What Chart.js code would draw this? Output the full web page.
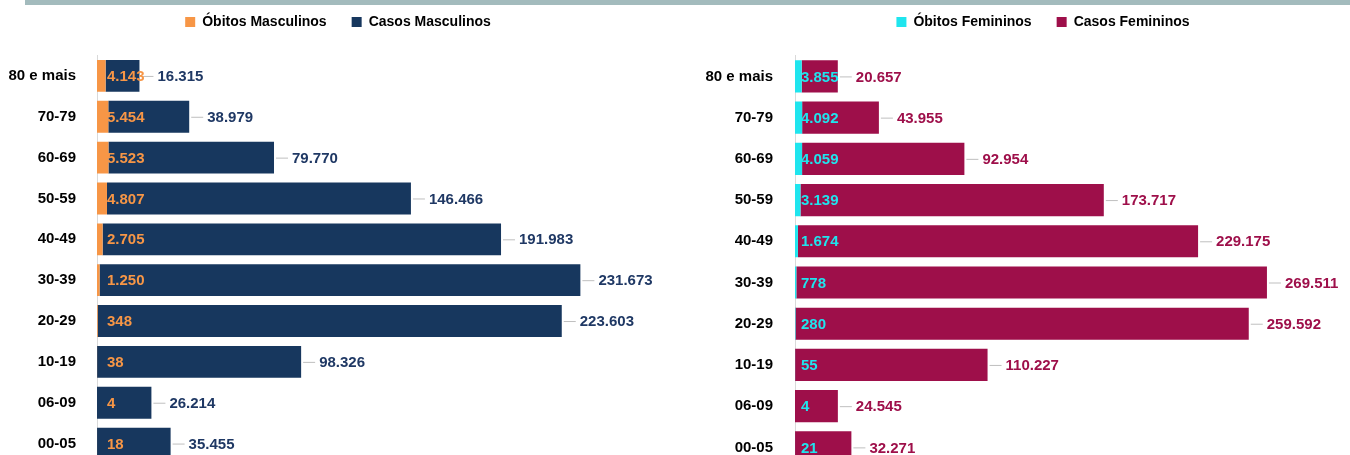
<!DOCTYPE html>
<html>
<head>
<meta charset="utf-8">
<script src="https://cdn.jsdelivr.net/npm/chart.js@4"></script>
<style>
  html, body { margin: 0; padding: 0; background: #fff; overflow: hidden; width: 1350px; height: 455px; }
  .topline { position: absolute; left: 25px; top: 0; width: 1325px; height: 5px; background: #a3bbbd; }
  .box { position: absolute; top: -10px; }
</style>
</head>
<body>
<div class="topline"></div>
<div class="box" style="left:0; width:676px; height:504px;"><canvas id="maleChart"></canvas></div>
<div class="box" style="left:690px; width:706px; height:509px;"><canvas id="femaleChart"></canvas></div>
<script>
// faixas etárias, de cima para baixo
const ageGroups = ['80 e mais', '70-79', '60-69', '50-59', '40-49', '30-39', '20-29', '10-19', '06-09', '00-05'];

const deathsMale = [4143, 5454, 5523, 4807, 2705, 1250, 348, 38, 4, 18];
const casesMale = [16315, 38979, 79770, 146466, 191983, 231673, 223603, 98326, 26214, 35455];

const deathsFemale = [3855, 4092, 4059, 3139, 1674, 778, 280, 55, 4, 21];
const casesFemale = [20657, 43955, 92954, 173717, 229175, 269511, 259592, 110227, 24545, 32271];

const FONT = "'Liberation Sans', Arial, sans-serif";

function fmt(v) {
    return String(v).replace(/\B(?=(\d{3})+(?!\d))/g, '.');
}

// rótulos: óbitos dentro da barra, casos após a barra com linha guia
const valueLabels = {
    id: 'valueLabels',
    afterDatasetsDraw(chart, args, opts) {
        const ctx = chart.ctx;
        const xScale = chart.scales.x;
        const deathsMeta = chart.getDatasetMeta(0);
        const casesMeta = chart.getDatasetMeta(1);
        ctx.save();
        ctx.font = 'bold 15px ' + FONT;
        ctx.textBaseline = 'middle';
        ctx.textAlign = 'left';
        casesMeta.data.forEach((bar, i) => {
            const y = bar.y;
            const end = bar.x;
            ctx.strokeStyle = '#bfbfbf';
            ctx.lineWidth = 1;
            ctx.beginPath();
            ctx.moveTo(end + 2, y + 0.5);
            ctx.lineTo(end + 14, y + 0.5);
            ctx.stroke();
            ctx.fillStyle = opts.casesColor;
            ctx.fillText(fmt(chart.data.datasets[1].data[i]), end + 18, y + 1);
        });
        deathsMeta.data.forEach((bar, i) => {
            ctx.fillStyle = opts.deathsColor;
            ctx.fillText(fmt(chart.data.datasets[0].data[i]), xScale.left + opts.inset, bar.y + 1);
        });
        ctx.restore();
    }
};

// reserva a altura do cabeçalho da legenda
const legendSpace = {
    id: 'legendSpace',
    beforeInit(chart, args, opts) {
        const origFit = chart.legend.fit;
        chart.legend.fit = function () {
            origFit.bind(this)();
            this.height = opts.height;
        };
    }
};

function makeChart(id, labels, deathsLabel, casesLabel, deaths, cases, colors, cfg) {
    return new Chart(document.getElementById(id), {
        type: 'bar',
        data: {
            labels: labels,
            datasets: [{
                label: deathsLabel,
                data: deaths,
                backgroundColor: colors.deaths,
                barPercentage: 0.78,
                categoryPercentage: 1
            }, {
                label: casesLabel,
                data: cases,
                backgroundColor: colors.cases,
                barPercentage: 0.78,
                categoryPercentage: 1
            }]
        },
        options: {
            indexAxis: 'y',
            responsive: true,
            maintainAspectRatio: false,
            animation: false,
            layout: { padding: 0 },
            plugins: {
                legend: {
                    position: 'top',
                    labels: {
                        boxWidth: 10,
                        boxHeight: 10,
                        padding: 25,
                        color: '#000',
                        font: { family: FONT, size: 14, weight: 'bold' }
                    }
                },
                tooltip: { enabled: false },
                valueLabels: { casesColor: colors.casesText, deathsColor: colors.deathsText, inset: cfg.inset },
                legendSpace: { height: cfg.top }
            },
            scales: {
                x: {
                    stacked: true,
                    display: false,
                    min: 0,
                    max: cfg.max
                },
                y: {
                    stacked: true,
                    grid: { display: false, drawTicks: false },
                    border: { display: true, color: '#d9d9d9', width: 1 },
                    ticks: {
                        padding: cfg.pad,
                        color: '#000',
                        font: { family: FONT, size: 15, weight: 'bold' }
                    },
                    afterFit(scale) { scale.width = cfg.axisWidth; }
                }
            }
        },
        plugins: [valueLabels, legendSpace]
    });
}

makeChart('maleChart', ageGroups, 'Óbitos Masculinos', 'Casos Masculinos', deathsMale, casesMale,
    { deaths: '#f79646', cases: '#17375e', deathsText: '#f79646', casesText: '#1f3864' },
    { max: 279000, axisWidth: 97, pad: 21, top: 65.5, inset: 10 });

makeChart('femaleChart', ageGroups, 'Óbitos Femininos', 'Casos Femininos', deathsFemale, casesFemale,
    { deaths: '#1fe5ee', cases: '#9e0f4a', deathsText: '#1fe5ee', casesText: '#9e0f4a' },
    { max: 344200, axisWidth: 105, pad: 22, top: 65.8, inset: 6 });
</script>
</body>
</html>
